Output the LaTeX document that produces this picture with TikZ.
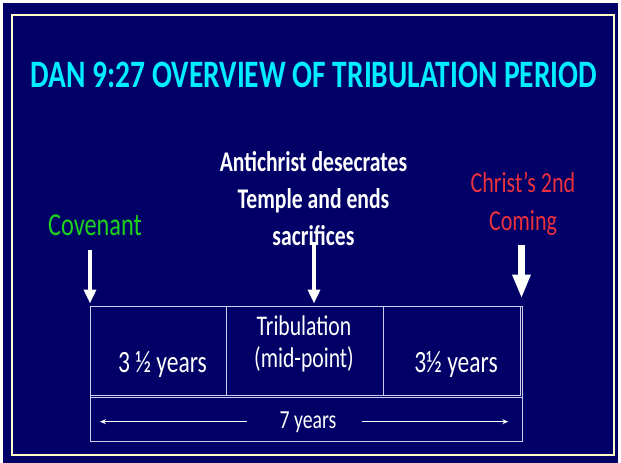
\documentclass[tikz,border=0pt]{standalone}
\usepackage{fontspec}
\newfontfamily\slidefont[FakeStretch=0.76]{Carlito}
\usetikzlibrary{arrows.meta,positioning}
\definecolor{slidenavy}{RGB}{0,0,102}
\definecolor{framecream}{RGB}{255,255,200}
\definecolor{titlecyan}{RGB}{0,238,255}
\definecolor{covgreen}{RGB}{30,210,30}
\definecolor{comingred}{RGB}{235,50,60}
\definecolor{gridline}{RGB}{205,205,235}
\tikzset{
  slidetext/.style={inner sep=0pt, outer sep=0pt, text=white, align=center, anchor=base},
  cell/.style={draw=gridline, line width=1pt, minimum height=89.5pt, outer sep=0pt, inner sep=0pt},
  downarrow/.style={draw=white, line width=3.5pt, -{Triangle[width=12pt,length=14pt]}},
  yeararrow/.style={draw=white, line width=1pt, -{Stealth[length=6pt,width=5pt]}}
}
\begin{document}
\begin{tikzpicture}[x=1pt,y=-1pt]
\useasboundingbox (0,0) rectangle (621,463);
\fill[white] (0,0) rectangle (621,463);
\fill[slidenavy] (3,3) rectangle (618,463);
\draw[framecream, line width=2pt] (11.5,14.5) rectangle (613.5,455.3);
% title
\node[slidetext, text=titlecyan, font=\slidefont\fontsize{38.8}{40}\selectfont\bfseries] (title) at (314,87.7) {DAN 9:27 OVERVIEW OF TRIBULATION PERIOD};
% labels above the timeline (base = last line)
\node[slidetext, text=covgreen, font=\slidefont\fontsize{32}{37}\selectfont] (covenant) at (95,235) {Covenant};
\node[slidetext, font=\slidefont\fontsize{28.5}{36.7}\selectfont\bfseries] (desecrate) at (313.5,245) {Antichrist desecrates\\Temple and ends\\sacrifices};
\node[slidetext, text=comingred, font=\slidefont\fontsize{29}{38}\selectfont] (coming) at (523,230) {Christ’s 2nd\\Coming};
% the week of years
\node[cell, minimum width=136pt, anchor=north west] (cellA) at (90,306) {};
\node[cell, minimum width=157.5pt, right=0pt of cellA] (cellB) {};
\node[cell, minimum width=136.5pt, right=0pt of cellB] (cellC) {};
\node[cell, minimum width=432pt, minimum height=43.5pt, anchor=north west] (yearsbox) at (90,397.5) {};
\draw[gridline, line width=1pt] (cellA.north west) rectangle (yearsbox.south east);
\node[slidetext, font=\slidefont\fontsize{31}{37}\selectfont] (firsthalf) at (162.5,372.7) {3 ½ years};
\node[slidetext, font=\slidefont\fontsize{28.5}{32.5}\selectfont] (midpoint) at (304,367.5) {Tribulation\\(mid-point)};
\node[slidetext, font=\slidefont\fontsize{31}{37}\selectfont] (secondhalf) at (456,372.7) {3½ years};
\node[slidetext, font=\slidefont\fontsize{26}{30}\selectfont] (seven) at (308,428.3) {7 years};
% arrows
\coordinate (covtail) at (90,250);
\coordinate (covtip) at (90,303.5);
\coordinate (midtail) at (314,242);
\coordinate (midtip) at (314,303.5);
\coordinate (cometail) at (521.5,245);
\coordinate (cometip) at (521.5,298.5);
\coordinate (sevenLtail) at (246.7,421.7);
\coordinate (sevenLtip) at (100,421.7);
\coordinate (sevenRtail) at (361.7,421.7);
\coordinate (sevenRtip) at (508.3,421.7);
\draw[downarrow] (covtail) -- (covtip);
\draw[downarrow] (midtail) -- (midtip);
\draw[downarrow, line width=6.5pt, -{Triangle[width=17pt,length=24pt]}] (cometail) -- (cometip);
\draw[yeararrow] (sevenLtail) -- (sevenLtip);
\draw[yeararrow] (sevenRtail) -- (sevenRtip);
\end{tikzpicture}
\end{document}
